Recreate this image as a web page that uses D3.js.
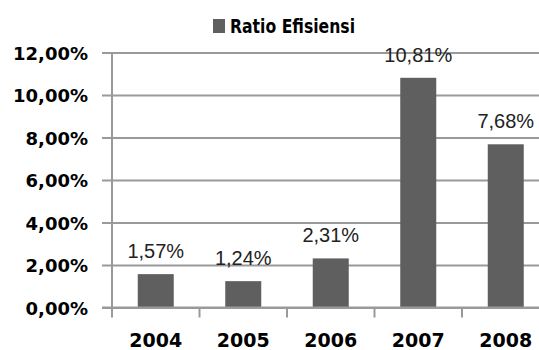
<!DOCTYPE html>
<html>
<head>
<meta charset="utf-8">
<script src="https://cdn.jsdelivr.net/npm/d3@7"></script>
<style>
  html, body { margin: 0; padding: 0; background: #fff; }
  svg { display: block; }
</style>
</head>
<body>
<svg id="chart" width="539" height="350"></svg>
<script>
const categories = ["2004", "2005", "2006", "2007", "2008"];
const values = [1.57, 1.24, 2.31, 10.81, 7.68];
const valueLabels = ["1,57%", "1,24%", "2,31%", "10,81%", "7,68%"];
const yTicks = [0, 2, 4, 6, 8, 10, 12];
const yTickLabels = ["0,00%", "2,00%", "4,00%", "6,00%", "8,00%", "10,00%", "12,00%"];
const seriesName = "Ratio Efisiensi";

(function () {
const svg = d3.select("#chart");
const W = 539, H = 350;
const mLeft = 112, mRight = 549.5, mTop = 52.5, mBottom = 307.5;

const x = d3.scaleBand().domain(categories).range([mLeft, mRight]).paddingInner(0).paddingOuter(0);
const y = d3.scaleLinear().domain([0, 12]).range([mBottom, mTop]);
const barW = 36;
const gridColor = "#9a9a9a";

// gridlines + y labels
const yAxis = d3.axisLeft(y).tickValues(yTicks).tickSize(0).tickFormat((d, i) => yTickLabels[i]);
const gY = svg.append("g").attr("transform", `translate(${mLeft},0)`).call(yAxis);
gY.select(".domain").remove();
gY.selectAll(".tick line").attr("stroke", gridColor).attr("stroke-width", 2).attr("x1", -10).attr("x2", W - mLeft + 2);
gY.selectAll(".tick text")
  .attr("font-family", "DejaVu Sans, sans-serif")
  .attr("font-weight", "bold")
  .attr("font-size", 18)
  .attr("fill", "#000")
  .attr("x", -24)
  .attr("dy", "0.38em");

// vertical axis line
svg.append("line").attr("x1", mLeft).attr("x2", mLeft).attr("y1", mTop).attr("y2", mBottom + 1)
  .attr("stroke", gridColor).attr("stroke-width", 2);

// bars
svg.append("g").selectAll("rect").data(values).join("rect")
  .attr("x", (d, i) => x(categories[i]) + x.bandwidth() / 2 - barW / 2)
  .attr("width", barW)
  .attr("y", d => y(d))
  .attr("height", d => y(0) - y(d))
  .attr("fill", "#5f5f5f");

// x axis
const xAxis = d3.axisBottom(x).tickSize(0).tickPadding(26);
const gX = svg.append("g").attr("transform", `translate(0,${mBottom})`).call(xAxis);
gX.select(".domain").remove();
gX.selectAll(".tick text")
  .attr("font-family", "DejaVu Sans, sans-serif")
  .attr("font-weight", "bold")
  .attr("font-size", 19)
  .attr("fill", "#000");
// category boundary ticks
svg.append("g").selectAll("line").data(categories).join("line")
  .attr("x1", d => x(d)).attr("x2", d => x(d))
  .attr("y1", mBottom).attr("y2", mBottom + 10)
  .attr("stroke", gridColor).attr("stroke-width", 2);
// baseline
svg.append("line").attr("x1", mLeft - 10).attr("x2", W).attr("y1", mBottom).attr("y2", mBottom)
  .attr("stroke", gridColor).attr("stroke-width", 2);

// value labels
svg.append("g").selectAll("text").data(values).join("text")
  .attr("x", (d, i) => x(categories[i]) + x.bandwidth() / 2)
  .attr("y", d => y(d) - 16)
  .attr("text-anchor", "middle")
  .attr("font-family", "Liberation Sans, Arial, sans-serif")
  .attr("font-size", 20)
  .attr("fill", "#222")
  .text((d, i) => valueLabels[i]);

// legend
const lg = svg.append("g");
lg.append("rect").attr("x", 213).attr("y", 19).attr("width", 12).attr("height", 14).attr("fill", "#5f5f5f");
lg.append("text").attr("x", 230).attr("y", 33)
  .attr("font-family", "DejaVu Sans, sans-serif")
  .attr("font-weight", "bold")
  .attr("font-size", 20)
  .attr("textLength", 125)
  .attr("lengthAdjust", "spacingAndGlyphs")
  .attr("fill", "#000")
  .text(seriesName);
})();
</script>
</body>
</html>
